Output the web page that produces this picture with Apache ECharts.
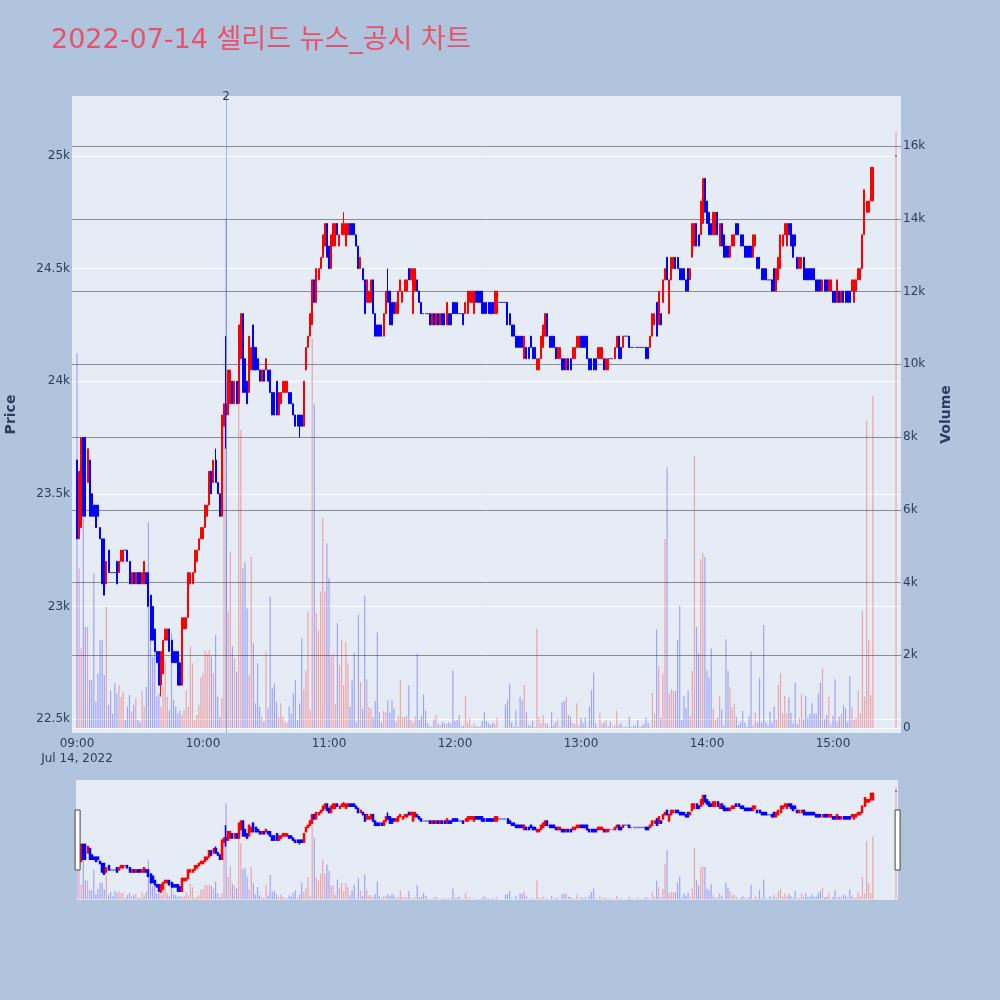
<!DOCTYPE html>
<html>
<head>
<meta charset="utf-8">
<title>셀리드 뉴스_공시 차트</title>
<script src="https://cdn.jsdelivr.net/npm/echarts@6/dist/echarts.min.js"></script>
<style>
  html, body { margin: 0; padding: 0; background: #B0C4DE; }
  #chart { width: 1000px; height: 1000px; }
</style>
</head>
<body>
<div id="chart"></div>
<script>
// 09:00 기준 경과 분 (09:00 ~ 15:19 장중, 15:30 종가)
const minutes = [];
for (let m = 0; m < 380; m++) minutes.push(m);
minutes.push(390);

const opens = [
  23650,23300,23350,23750,23750,23550,23650,23500,23450,23450,
  23450,23350,23300,23300,23100,23250,23150,23150,23150,23200,
  23150,23200,23200,23250,23250,23200,23100,23150,23100,23150,
  23150,23100,23100,23150,23150,23050,23000,22900,22800,22800,
  22650,22700,22850,22850,22900,22850,22800,22800,22800,22750,
  22650,22900,22900,22950,23100,23100,23150,23200,23250,23300,
  23300,23350,23400,23450,23600,23550,23650,23550,23500,23400,
  23800,23900,23850,23900,24000,23900,24000,23900,24100,24300,
  24100,24000,23950,24050,24250,24150,24100,24050,24000,24050,
  24050,24050,24050,23950,23950,24000,23850,23900,23950,23950,
  23950,23950,23950,23900,23850,23850,23850,23850,23800,24050,
  24150,24200,24250,24450,24350,24450,24500,24550,24600,24700,
  24600,24500,24600,24600,24700,24600,24650,24650,24600,24650,
  24700,24700,24700,24650,24600,24500,24500,24450,24350,24350,
  24350,24450,24300,24250,24250,24250,24200,24300,24400,24400,
  24350,24350,24300,24300,24400,24350,24400,24400,24500,24450,
  24300,24400,24450,24400,24350,24300,24300,24300,24300,24250,
  24300,24250,24300,24250,24300,24300,24250,24300,24300,24350,
  24350,24350,24300,24300,24300,24300,24300,24350,24350,24300,
  24400,24400,24400,24400,24350,24350,24350,24350,24350,24300,
  24300,24350,24350,24350,24350,24350,24300,24250,24250,24200,
  24200,24200,24200,24100,24150,24150,24200,24150,24150,24050,
  24050,24100,24150,24200,24300,24200,24200,24200,24150,24100,
  24100,24100,24100,24050,24100,24100,24100,24100,24150,24150,
  24200,24200,24200,24200,24100,24100,24100,24100,24100,24100,
  24100,24100,24050,24050,24100,24100,24100,24150,24200,24150,
  24150,24200,24200,24200,24150,24150,24150,24150,24150,24150,
  24150,24150,24150,24150,24200,24250,24350,24250,24300,24350,
  24450,24550,24300,24450,24500,24550,24550,24500,24500,24500,
  24450,24500,24450,24550,24600,24700,24650,24650,24700,24900,
  24800,24750,24700,24650,24650,24750,24600,24700,24650,24600,
  24600,24550,24600,24600,24700,24700,24650,24650,24600,24600,
  24600,24600,24550,24600,24550,24550,24500,24500,24500,24450,
  24450,24450,24500,24400,24450,24500,24600,24650,24600,24700,
  24700,24650,24650,24550,24500,24500,24550,24500,24500,24500,
  24500,24500,24450,24450,24450,24400,24450,24450,24400,24400,
  24400,24400,24350,24400,24350,24400,24400,24400,24400,24400,
  24350,24400,24450,24450,24500,24650,24750,24750,24800,24800,
  25000
];

const closes = [
  23300,23600,23750,23400,23400,23700,23400,23400,23400,23350,
  23400,23300,23100,23050,23200,23150,23150,23150,23150,23100,
  23200,23250,23250,23250,23200,23100,23150,23100,23150,23100,
  23100,23150,23200,23100,23000,22850,22850,22800,22750,22650,
  22800,22850,22900,22900,22800,22750,22750,22750,22650,22650,
  22950,22950,22950,23150,23150,23150,23250,23250,23300,23350,
  23350,23450,23450,23600,23500,23650,23550,23500,23400,23850,
  23900,23850,24050,24050,23900,24000,23900,24250,24300,23950,
  23950,23900,24200,24150,24050,24050,24050,24000,24050,24000,
  24100,24000,23950,23850,23850,23850,23950,23950,24000,24000,
  24000,23900,23900,23850,23800,23800,23800,23800,24000,24150,
  24200,24300,24450,24350,24500,24500,24550,24650,24700,24550,
  24500,24650,24700,24700,24650,24650,24700,24700,24700,24700,
  24650,24650,24650,24600,24500,24550,24450,24300,24450,24400,
  24450,24300,24200,24200,24200,24200,24300,24400,24350,24250,
  24250,24300,24350,24400,24450,24400,24450,24450,24450,24500,
  24500,24500,24400,24350,24300,24300,24300,24300,24250,24300,
  24250,24300,24250,24300,24250,24250,24350,24250,24250,24300,
  24300,24300,24300,24300,24250,24350,24400,24400,24400,24400,
  24350,24350,24350,24300,24300,24300,24300,24300,24300,24400,
  24400,24350,24350,24350,24350,24250,24250,24200,24200,24150,
  24150,24150,24150,24200,24100,24100,24150,24100,24100,24100,
  24100,24200,24250,24300,24200,24150,24150,24150,24100,24150,
  24150,24050,24050,24100,24050,24050,24150,24150,24200,24200,
  24150,24150,24150,24100,24050,24050,24050,24050,24150,24150,
  24150,24050,24100,24100,24100,24100,24150,24200,24100,24100,
  24200,24200,24200,24150,24150,24150,24150,24150,24150,24150,
  24150,24100,24100,24200,24300,24300,24200,24400,24250,24450,
  24500,24450,24450,24550,24550,24500,24500,24450,24450,24450,
  24400,24400,24500,24700,24700,24600,24600,24800,24900,24750,
  24700,24650,24650,24750,24750,24650,24700,24600,24550,24550,
  24550,24600,24650,24650,24650,24650,24600,24600,24550,24550,
  24550,24550,24650,24650,24500,24500,24450,24450,24450,24450,
  24450,24400,24400,24500,24550,24650,24650,24700,24700,24650,
  24600,24550,24600,24500,24550,24550,24450,24450,24450,24450,
  24450,24450,24400,24400,24400,24450,24400,24400,24450,24450,
  24350,24350,24450,24350,24400,24350,24350,24350,24350,24450,
  24450,24450,24500,24500,24650,24850,24800,24800,24950,24950,
  25000
];

const lows = [
  23300,23300,23350,23400,23400,23550,23400,23400,23400,23350,
  23400,23300,23100,23050,23100,23150,23150,23150,23150,23100,
  23150,23200,23200,23250,23200,23100,23100,23100,23100,23100,
  23100,23100,23100,23100,23000,22850,22850,22800,22750,22650,
  22600,22700,22850,22850,22800,22750,22750,22750,22650,22650,
  22650,22900,22900,22950,23100,23100,23150,23200,23250,23300,
  23300,23350,23400,23450,23500,23550,23550,23500,23400,23400,
  23800,23700,23850,23900,23900,23900,23900,23900,24100,23950,
  23950,23900,23950,24050,24050,24050,24050,24000,24000,24000,
  24050,24000,23950,23850,23850,23850,23850,23900,23950,23950,
  23950,23900,23900,23850,23800,23800,23750,23800,23800,24050,
  24150,24200,24250,24350,24350,24450,24500,24550,24600,24550,
  24500,24500,24600,24600,24650,24600,24650,24650,24600,24650,
  24650,24650,24650,24600,24500,24500,24450,24300,24350,24350,
  24350,24300,24200,24200,24200,24200,24200,24300,24350,24250,
  24250,24300,24300,24300,24400,24350,24400,24400,24450,24450,
  24300,24400,24400,24350,24300,24300,24300,24300,24250,24250,
  24250,24250,24250,24250,24250,24250,24250,24250,24250,24300,
  24300,24300,24300,24300,24250,24300,24300,24350,24350,24300,
  24350,24350,24350,24300,24300,24300,24300,24300,24300,24300,
  24300,24350,24350,24350,24350,24250,24250,24200,24200,24150,
  24150,24150,24150,24100,24100,24100,24150,24100,24100,24050,
  24050,24100,24150,24200,24200,24150,24150,24150,24100,24100,
  24100,24050,24050,24050,24050,24050,24100,24100,24150,24150,
  24150,24150,24150,24100,24050,24050,24050,24050,24100,24100,
  24100,24050,24050,24050,24100,24100,24100,24150,24100,24100,
  24150,24200,24200,24150,24150,24150,24150,24150,24150,24150,
  24150,24100,24100,24150,24200,24250,24200,24250,24250,24350,
  24450,24450,24300,24450,24500,24500,24500,24450,24450,24450,
  24400,24400,24450,24550,24600,24600,24600,24650,24700,24750,
  24700,24650,24650,24650,24650,24650,24600,24600,24550,24550,
  24550,24550,24600,24600,24650,24650,24600,24600,24550,24550,
  24550,24550,24550,24600,24500,24500,24450,24450,24450,24450,
  24450,24400,24400,24400,24450,24500,24600,24650,24600,24650,
  24600,24550,24600,24500,24500,24500,24450,24450,24450,24450,
  24450,24450,24400,24400,24400,24400,24400,24400,24400,24400,
  24350,24350,24350,24350,24350,24350,24350,24350,24350,24400,
  24350,24400,24450,24450,24500,24650,24750,24750,24800,24800,
  25000
];

const highs = [
  23650,23600,23750,23750,23750,23700,23650,23500,23450,23450,
  23450,23350,23300,23300,23200,23250,23150,23150,23150,23200,
  23200,23250,23250,23250,23250,23200,23150,23150,23150,23150,
  23150,23150,23200,23150,23150,23050,23000,22900,22800,22800,
  22800,22850,22900,22900,22900,22850,22800,22800,22800,22750,
  22950,22950,22950,23150,23150,23150,23250,23250,23300,23350,
  23350,23450,23450,23600,23600,23650,23700,23550,23500,23850,
  23900,24200,24050,24050,24000,24000,24000,24250,24300,24300,
  24100,24000,24200,24150,24250,24150,24100,24050,24050,24050,
  24100,24050,24050,23950,23950,24000,23950,23950,24000,24000,
  24000,23950,23950,23900,23850,23850,23850,23850,24000,24150,
  24200,24300,24450,24450,24500,24500,24550,24650,24700,24700,
  24600,24650,24700,24700,24700,24650,24700,24750,24700,24700,
  24700,24700,24700,24650,24600,24550,24500,24450,24450,24400,
  24450,24450,24300,24250,24250,24250,24300,24400,24500,24400,
  24350,24350,24350,24400,24450,24400,24450,24450,24500,24500,
  24500,24500,24450,24400,24350,24300,24300,24300,24300,24300,
  24300,24300,24300,24300,24300,24300,24350,24300,24300,24350,
  24350,24350,24300,24300,24300,24350,24400,24400,24400,24400,
  24400,24400,24400,24400,24350,24350,24350,24350,24350,24400,
  24400,24350,24350,24350,24350,24350,24300,24250,24250,24200,
  24200,24200,24200,24200,24150,24150,24200,24150,24150,24100,
  24100,24200,24250,24300,24300,24200,24200,24200,24150,24150,
  24150,24100,24100,24100,24100,24100,24150,24150,24200,24200,
  24200,24200,24200,24200,24100,24100,24100,24100,24150,24150,
  24150,24100,24100,24100,24100,24100,24150,24200,24200,24150,
  24200,24200,24200,24200,24150,24150,24150,24150,24150,24150,
  24150,24150,24150,24200,24300,24300,24350,24400,24300,24450,
  24500,24550,24450,24550,24550,24550,24550,24500,24500,24500,
  24450,24500,24500,24700,24700,24700,24650,24800,24900,24900,
  24800,24750,24700,24750,24750,24750,24700,24700,24650,24600,
  24600,24600,24650,24650,24700,24700,24650,24650,24600,24600,
  24600,24600,24650,24650,24550,24550,24500,24500,24500,24450,
  24450,24450,24500,24500,24550,24650,24650,24700,24700,24700,
  24700,24650,24650,24550,24550,24550,24550,24500,24500,24500,
  24500,24500,24450,24450,24450,24450,24450,24450,24450,24450,
  24400,24400,24450,24400,24400,24400,24400,24400,24400,24450,
  24450,24450,24500,24500,24650,24850,24800,24800,24950,24950,
  25000
];

const volumes = [
  10300,4390,2190,5810,2780,2780,1320,1320,4250,720,
  1500,2420,2420,1460,3330,630,1040,400,1230,950,
  1180,860,1000,220,590,910,450,630,820,220,
  170,1040,590,1130,5670,3150,1960,2600,860,950,
  590,1130,1870,860,490,2600,770,590,400,490,
  360,490,1040,590,2240,1780,220,360,630,1410,
  1500,2140,2050,2140,1960,1500,2560,860,310,820,
  8600,14000,3200,4850,2240,1920,1550,8880,8190,4390,
  4570,3290,1460,4710,2330,680,1780,590,310,170,
  2100,540,3610,1090,1230,720,310,680,310,170,
  130,590,400,950,1320,220,680,2470,1050,1590,
  3200,500,10700,8900,3150,2690,3750,5770,3750,5080,
  4120,1960,2030,660,2880,1730,2420,1180,2370,1780,
  590,1320,2080,160,3110,1270,520,3640,1340,570,
  540,290,740,2630,430,160,470,430,760,420,
  760,540,180,330,1320,310,310,330,1170,220,
  150,330,2050,220,340,920,480,130,40,40,
  240,360,100,80,160,130,110,160,110,1580,
  190,220,360,40,60,880,150,270,40,130,
  40,20,40,190,430,190,130,80,150,110,
  290,10,10,10,650,790,1200,160,40,480,
  40,860,770,1180,430,80,60,200,20,2720,
  290,130,350,130,110,20,430,80,170,270,
  20,710,750,860,360,310,130,110,680,60,
  290,130,290,20,590,1050,1520,130,20,420,
  130,150,220,60,170,20,80,470,80,130,
  40,40,20,310,20,60,60,220,20,60,
  110,280,130,20,970,400,2710,1700,280,1500,
  5190,7160,950,1070,1020,1020,2420,3360,220,880,
  540,1030,330,1570,7480,2790,2050,4640,4820,4710,
  1580,1390,2190,540,220,280,880,500,60,2440,
  1590,1110,570,660,310,80,170,470,150,40,
  330,2100,80,420,150,1370,150,2830,170,80,
  450,150,600,240,1180,1500,400,880,400,840,
  420,130,1250,110,270,930,240,880,280,390,
  680,400,390,930,1250,1640,240,360,860,110,
  330,1340,170,310,380,630,540,170,1430,570,
  220,270,1040,400,3230,860,8440,2420,910,9130,
  16400
];

// 뉴스/공시 시점
const newsMinutes = [71];
const newsLabels = ['2'];

const UP = '#ff0000';
const DOWN = '#0000ff';
const UP_VOL = 'rgba(255,0,0,0.3)';
const DOWN_VOL = 'rgba(0,0,255,0.3)';
const TXT = '#2a3f5f';
const FONT = '"DejaVu Sans", Verdana, "Noto Sans CJK KR", sans-serif';

// x축 범위 (플롯 영역 72~901px, 09:00 = 77px)
const X_MIN = -5 / 2.1;
const X_MAX = 390 + 5 / 2.1;

function isUp(i) {
  if (closes[i] !== opens[i]) return closes[i] > opens[i];
  return i > 0 && closes[i] > closes[i - 1];
}

const candleData = minutes.map((m, i) => [m, opens[i], closes[i], lows[i], highs[i]]);
const volumeData = minutes.map((m, i) => ({
  value: [m, volumes[i]],
  itemStyle: { color: isUp(i) ? UP_VOL : DOWN_VOL }
}));

function hhmm(v) {
  const h = 9 + Math.floor(v / 60);
  const mm = v % 60;
  return (h < 10 ? '0' : '') + h + ':' + (mm < 10 ? '0' : '') + mm;
}

const candleStyle = {
  color: UP, color0: DOWN,
  borderColor: UP, borderColor0: DOWN, borderColorDoji: DOWN,
  borderWidth: 1
};

const chart = echarts.init(document.getElementById('chart'));
chart.setOption({
  animation: false,
  backgroundColor: '#B0C4DE',
  textStyle: { fontFamily: FONT },
  title: {
    text: '2022-07-14 셀리드 뉴스_공시 차트',
    left: 46, top: 22,
    textStyle: { color: '#E9526B', fontSize: 27, fontWeight: 'normal', fontFamily: FONT }
  },
  grid: [
    { left: 72, right: 99, top: 156, height: 563, outerBoundsMode: 'none' },   // 가격
    { left: 72, right: 99, top: 146, height: 582, outerBoundsMode: 'none' },   // 거래량
    { left: 72, right: 99, top: 96, height: 637, show: true, backgroundColor: '#E5ECF6', borderWidth: 0, outerBoundsMode: 'none' },
    { left: 77, right: 104, top: 96, height: 632, outerBoundsMode: 'none' },   // 시간 라벨
    { left: 76, width: 822, top: 780, height: 120, show: true, backgroundColor: '#E5ECF6', borderWidth: 0, outerBoundsMode: 'none' }
  ],
  xAxis: [
    { gridIndex: 0, type: 'value', min: X_MIN, max: X_MAX, show: false },
    { gridIndex: 1, type: 'value', min: X_MIN, max: X_MAX, show: false },
    { gridIndex: 2, type: 'value', min: X_MIN, max: X_MAX, show: false },
    {
      gridIndex: 3, type: 'value', min: 0, max: 390, interval: 60,
      axisLine: { show: false }, axisTick: { show: false }, splitLine: { show: false },
      axisLabel: {
        color: TXT, fontSize: 12, margin: 8, lineHeight: 15,
        formatter: v => v % 60 !== 0 ? '' : (v === 0 ? hhmm(v) + '\nJul 14, 2022' : hhmm(v))
      }
    },
    { gridIndex: 4, type: 'value', min: -1 / 2.1, max: 390 + 2 / 2.1, show: false }
  ],
  yAxis: [
    {
      gridIndex: 0, type: 'value', position: 'left', min: 22500, max: 25000, interval: 500,
      axisLine: { show: false }, axisTick: { show: false },
      axisLabel: { color: TXT, fontSize: 12, margin: 2, formatter: v => (v / 1000) + 'k' },
      splitLine: { lineStyle: { color: '#ffffff', width: 1 } }
    },
    {
      gridIndex: 1, type: 'value', position: 'right', min: 0, max: 16000, interval: 2000,
      axisLine: { show: false }, axisTick: { show: false },
      axisLabel: { color: TXT, fontSize: 12, margin: 2, formatter: v => v === 0 ? '0' : (v / 1000) + 'k' },
      splitLine: { lineStyle: { color: ['#ffffff', '#8c8c8c', '#8c8c8c', '#8c8c8c', '#8c8c8c', '#8c8c8c', '#8c8c8c', '#8c8c8c', '#8c8c8c'], width: 1 } }
    },
    {
      gridIndex: 2, type: 'value', position: 'left', min: 0, max: 1,
      name: 'Price', nameLocation: 'middle', nameGap: 54, nameRotate: 90,
      nameTextStyle: { color: TXT, fontSize: 14, fontWeight: 'bold' },
      axisLine: { show: false }, axisTick: { show: false }, axisLabel: { show: false }, splitLine: { show: false }
    },
    {
      gridIndex: 2, type: 'value', position: 'right', min: 0, max: 1,
      name: 'Volume', nameLocation: 'middle', nameGap: 38, nameRotate: 90,
      nameTextStyle: { color: TXT, fontSize: 14, fontWeight: 'bold' },
      axisLine: { show: false }, axisTick: { show: false }, axisLabel: { show: false }, splitLine: { show: false }
    },
    { gridIndex: 3, type: 'value', min: 0, max: 1, show: false },
    { gridIndex: 4, type: 'value', min: 22442, max: 25266, show: false },
    { gridIndex: 4, type: 'value', min: -110, max: 17375, show: false }
  ],
  dataZoom: [{
    type: 'slider', xAxisIndex: [0, 1], filterMode: 'none',
    start: 0, end: 100,
    left: 76, width: 822, top: 780, height: 120,
    showDataShadow: false, showDetail: false, brushSelect: false,
    backgroundColor: 'rgba(0,0,0,0)', fillerColor: 'rgba(0,0,0,0)', borderColor: 'rgba(0,0,0,0)',
    handleIcon: 'path://M0,0H5V60H0Z', handleSize: '50%',
    handleStyle: { color: '#ffffff', borderColor: '#444444', borderWidth: 1 },
    moveHandleSize: 0,
    emphasis: { handleStyle: { color: '#ffffff', borderColor: '#444444', borderWidth: 1 } }
  }],
  series: [
    {
      type: 'bar', name: 'Volume', xAxisIndex: 1, yAxisIndex: 1,
      data: volumeData, barWidth: 1.2, clip: false, z: 1
    },
    {
      type: 'candlestick', name: 'Price', xAxisIndex: 0, yAxisIndex: 0,
      data: candleData, barWidth: 1.5, clip: false, z: 3,
      itemStyle: candleStyle
    },
    {
      type: 'line', name: 'news', xAxisIndex: 2, yAxisIndex: 2, data: [], z: 4,
      markLine: {
        silent: true, symbol: ['none', 'none'], animation: false,
        lineStyle: { color: 'rgba(65,105,225,0.45)', width: 1, type: 'solid' },
        label: { show: true, position: 'end', formatter: '{b}', color: TXT, fontSize: 12, distance: -7 },
        data: newsMinutes.map((m, i) => ({ xAxis: m, name: newsLabels[i] }))
      }
    },
    {
      type: 'bar', xAxisIndex: 4, yAxisIndex: 6,
      data: volumeData, barWidth: 1.2, clip: false, z: 1, silent: true
    },
    {
      type: 'candlestick', xAxisIndex: 4, yAxisIndex: 5,
      data: candleData, barWidth: 1.5, clip: false, z: 3, silent: true,
      itemStyle: { color: UP, color0: DOWN, borderColor: UP, borderColor0: DOWN, borderColorDoji: DOWN, borderWidth: 1.5 }
    }
  ]
});
</script>
</body>
</html>
